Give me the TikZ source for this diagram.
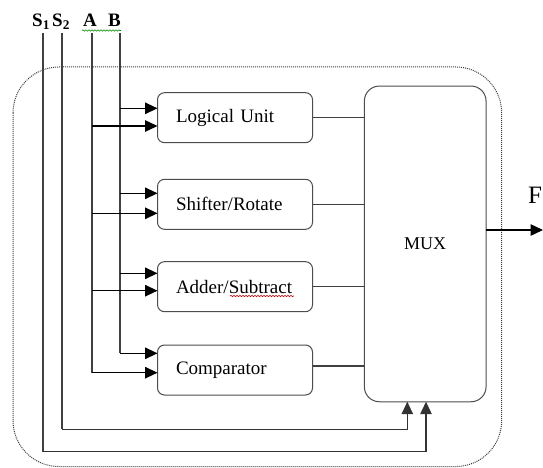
\documentclass[tikz,border=0pt]{standalone}
\usepackage{fontspec}
\setmainfont{Liberation Serif}
\usetikzlibrary{arrows.meta,decorations.pathmorphing}
\begin{document}
\begin{tikzpicture}[x=1pt,y=-1pt,
  bus/.style={draw=black!75,line width=1.1pt},
  feed/.style={draw=black,line width=1.4pt,-{Triangle[length=12.5pt,width=11.5pt]}},
  unit/.style={draw=black!70,line width=1pt,rounded corners=7pt,minimum width=155pt,
    minimum height=50pt,text width=118pt,align=left,inner xsep=18.5pt,
    font=\fontsize{19}{22}\selectfont},
  sig/.style={font=\bfseries\fontsize{19}{22}\selectfont,inner sep=0pt},
  squiggle/.style={decorate,decoration={snake,segment length=3pt,amplitude=0.7pt},line width=0.6pt}
]
\useasboundingbox (0,0) rectangle (543,468);

% enclosing ALU boundary
\draw[densely dotted,black!75,line width=1pt,rounded corners=46pt] (13,67) rectangle (501.7,466.5);

% functional units and multiplexer
\node[unit] (lu)  at (235,117.7) {Logical Unit};
\node[unit] (sr)  at (235,204.3) {Shifter/Rotate};
\node[unit] (as)  at (235,286.7) {Adder/Subtract};
\node[unit] (cmp) at (235,370)   {Comparator};
\node[draw=black!70,line width=1pt,rounded corners=15pt,minimum width=121.7pt,
      minimum height=315.7pt,font=\fontsize{18}{20}\selectfont] (mux) at (425.2,243.9) {MUX};

% signal names
\node[sig,anchor=base west] (s1) at (32,27) {S\textsubscript{1}};
\node[sig,anchor=base west] (s2) at (52,27) {S\textsubscript{2}};
\node[sig,anchor=base] (a) at (90,27) {A};
\node[sig,anchor=base] (b) at (114.5,27) {B};
\node[font=\fontsize{25}{28}\selectfont,anchor=base west,inner sep=0pt] (f) at (528,203) {F};
\draw[squiggle,green!55!black] (82,30.5) -- (121,30.5);
\draw[squiggle,red!80!black] (230,296) -- (294,296);

% bus tops and turning points
\coordinate (s1top) at (43,33);
\coordinate (s2top) at (62,33);
\coordinate (atop)  at (92,33);
\coordinate (btop)  at (120,33);
\coordinate (s1turn) at (43,451.7);
\coordinate (s2turn) at (62,429.3);

% operand inputs on each unit
\coordinate (lu-b)  at (157.5,108.3);
\coordinate (lu-a)  at (157.5,126);
\coordinate (sr-b)  at (157.5,193.3);
\coordinate (sr-a)  at (157.5,213.3);
\coordinate (as-b)  at (157.5,273.3);
\coordinate (as-a)  at (157.5,290.7);
\coordinate (cmp-b) at (157.5,353.3);
\coordinate (cmp-a) at (157.5,372.7);

% select inputs and output of the multiplexer
\coordinate (mux-s2) at (407.3,401.7);
\coordinate (mux-s1) at (426,401.7);
\coordinate (cmp-out) at (312.7,366);
\coordinate (out)  at (486,230);
\coordinate (fend) at (543,230);

% operand buses
\draw[bus] (atop) -- (atop |- cmp-a);
\draw[bus] (btop) -- (btop |- cmp-b);
\foreach \u in {lu,sr,as,cmp}{
  \draw[feed] (btop |- \u-b) -- (\u-b);
  \draw[feed] (atop |- \u-a) -- (\u-a);
}

% select lines
\draw[bus] (s2top) -- (s2turn);
\draw[bus] (s1top) -- (s1turn);
\draw[feed,line width=1.1pt,draw=black!80] (s2turn) -| (mux-s2);
\draw[feed,line width=1.1pt,draw=black!80] (s1turn) -| (mux-s1);

% unit results into the multiplexer
\draw[bus] (lu.east) -- (lu.east -| mux.west);
\draw[bus] (sr.east) -- (sr.east -| mux.west);
\draw[bus] (as.east) -- (as.east -| mux.west);
\draw[bus] (cmp-out) -- (cmp-out -| mux.west);

% result F
\draw[feed] (out) -- (fend);
\end{tikzpicture}
\end{document}
